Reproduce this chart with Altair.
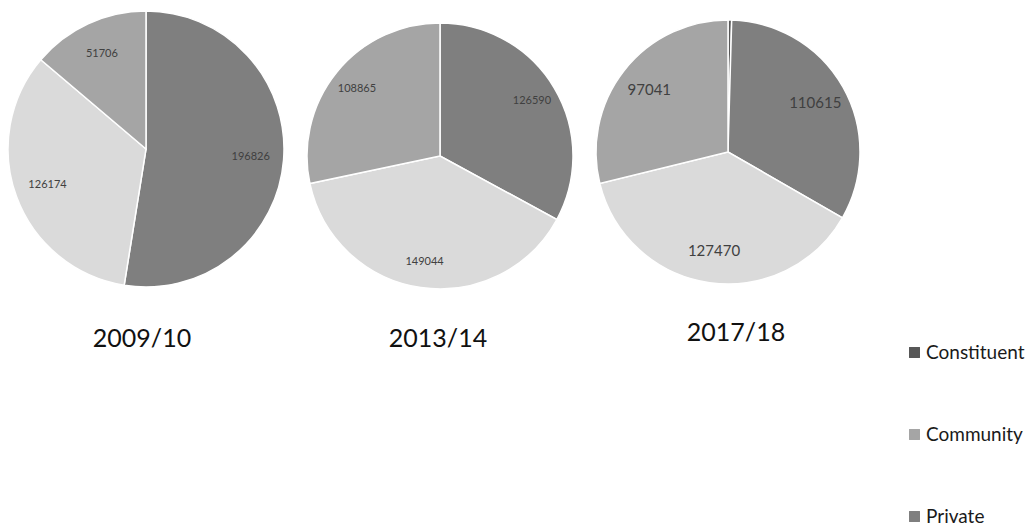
import altair as alt
import pandas as pd

years = ["2009/10", "2013/14", "2017/18"]
categories = ["Constituent", "Private", "Public", "Community"]
constituent = [0, 0, 1500]
private = [196826, 126590, 110615]
public = [126174, 149044, 127470]
community = [51706, 108865, 97041]
legend_values = ["Constituent", "Community", "Private"]
colors = ["#575757", "#7f7f7f", "#dadada", "#a5a5a5"]

rows = []
for i, y in enumerate(years):
    for j, (cat, vals) in enumerate(zip(categories, [constituent, private, public, community])):
        rows.append({"year": y, "category": cat, "value": vals[i], "ord": j})
df = pd.DataFrame(rows)

# layout (pixels): centre x, centre y, radius, label radius, label size, title x, title y
layout = [
    (146, 149, 138, 105, 11, 142, 347),
    (440, 156, 133, 107, 11, 438, 347),
    (728, 152, 132, 100, 15, 736, 341),
]

layers = []
for y, (cx, cy, r, lr, fs, tx, ty) in zip(years, layout):
    base = alt.Chart(df).transform_filter(alt.datum.year == y).transform_calculate(
        label="datum.category == 'Constituent' ? '' : toString(datum.value)"
    )
    arc = base.mark_arc(radius=r, stroke="white", strokeWidth=1.5).encode(
        theta=alt.Theta("value:Q", stack=True),
        color=alt.Color(
            "category:N",
            scale=alt.Scale(domain=categories, range=colors),
            legend=alt.Legend(
                values=legend_values,
                orient="none",
                legendX=905,
                legendY=343,
                title=None,
                symbolType="square",
                symbolSize=120,
                symbolStrokeWidth=0,
                labelFont="Lato",
                labelFontSize=19,
                labelColor="#1a1a1a",
                labelOffset=2,
                rowPadding=62,
            ),
        ),
        order=alt.Order("ord:Q"),
        x=alt.value(cx),
        y=alt.value(cy),
    )
    txt = base.mark_text(radius=lr, fontSize=fs, font="Lato", color="#404040").encode(
        theta=alt.Theta("value:Q", stack=True),
        text="label:N",
        order=alt.Order("ord:Q"),
        x=alt.value(cx),
        y=alt.value(cy),
    )
    title = alt.Chart(pd.DataFrame({"year": [y]})).mark_text(
        font="Lato", fontSize=25, color="#111111", baseline="alphabetic", align="center"
    ).encode(text="year:N", x=alt.value(tx), y=alt.value(ty))
    layers.append(alt.layer(arc, txt).resolve_scale(theta="shared"))
    layers.append(title)

chart = alt.layer(*layers).resolve_scale(theta="independent").properties(
    width=1030, height=527, autosize="none", padding=0
).configure_view(stroke=None)

chart.save("out.html", embed_options={"renderer": "svg", "actions": False})
